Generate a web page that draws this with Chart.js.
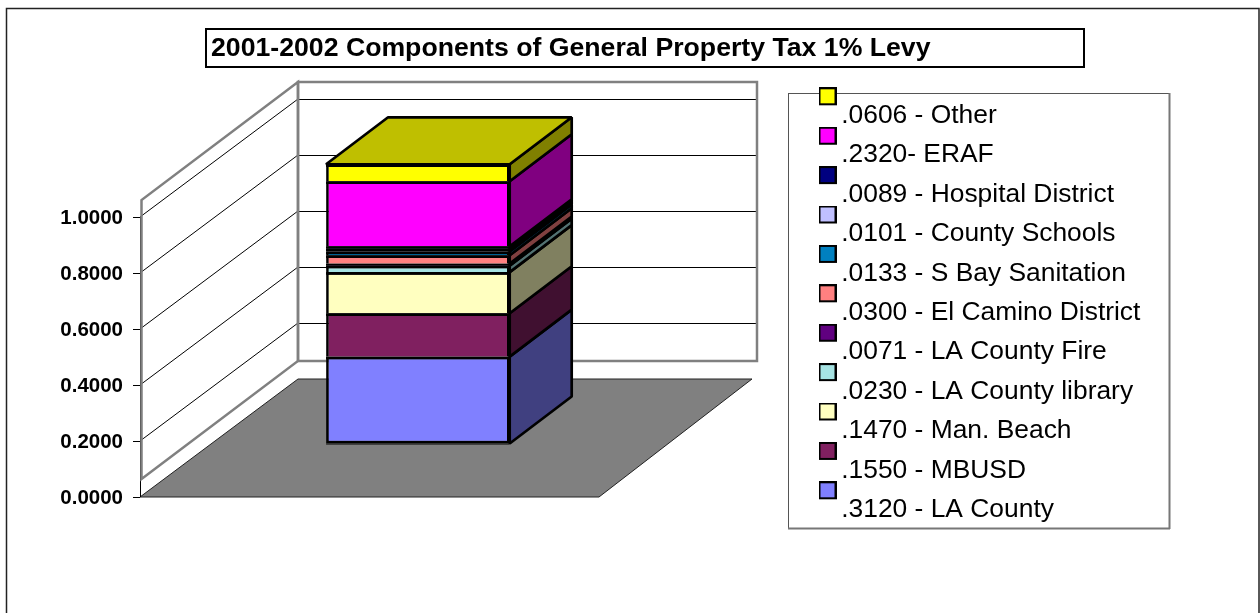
<!DOCTYPE html>
<html>
<head>
<meta charset="utf-8">
<title>2001-2002 Components of General Property Tax 1% Levy</title>
<script src="https://cdn.jsdelivr.net/npm/chart.js@4"></script>
<style>
  html, body { margin: 0; padding: 0; background: #fff; }
  canvas { display: block; }
</style>
</head>
<body>
<canvas id="taxChart" width="1260" height="613"></canvas>
<script>
const chartTitle = '2001-2002 Components of General Property Tax 1% Levy';
const categories = ['2001-2002'];
const seriesNames = ['.3120 - LA County', '.1550 - MBUSD', '.1470 - Man. Beach', '.0230 - LA County library', '.0071 - LA County Fire', '.0300 - El Camino District', '.0133 - S Bay Sanitation', '.0101 - County Schools', '.0089 - Hospital District', '.2320- ERAF', '.0606 - Other'];
const seriesValues = [0.3120, 0.1550, 0.1470, 0.0230, 0.0071, 0.0300, 0.0133, 0.0101, 0.0089, 0.2320, 0.0606];
const seriesColors = ['#8080ff', '#802060', '#ffffc0', '#a6e3e3', '#600080', '#ff8080', '#0080c0', '#c0c0ff', '#000080', '#ff00ff', '#ffff00'];
const tickStep = 0.2;
const tickMax = 1.0;

// 3d look, in pixels
const depthX = 158, depthY = 118;
const barDepthX = 62, barDepthY = 47;
const barShiftX = 48.4, barShiftY = 53;
const wallGap = 18, wallTopValue = 1.0607;
const barLine = 2.7;

function shade(hex, f) {
  const n = parseInt(hex.slice(1), 16);
  const c = [n >> 16, (n >> 8) & 255, n & 255].map(v => Math.round(v * f));
  return `rgb(${c[0]},${c[1]},${c[2]})`;
}

function poly(ctx, pts, fill, stroke, lw) {
  ctx.beginPath();
  pts.forEach((p, i) => i ? ctx.lineTo(p[0], p[1]) : ctx.moveTo(p[0], p[1]));
  ctx.closePath();
  if (fill) { ctx.fillStyle = fill; ctx.fill(); }
  if (stroke) { ctx.strokeStyle = stroke; ctx.lineWidth = lw; ctx.stroke(); }
}

function line(ctx, x1, y1, x2, y2, color, lw) {
  ctx.beginPath();
  ctx.moveTo(x1, y1);
  ctx.lineTo(x2, y2);
  ctx.strokeStyle = color;
  ctx.lineWidth = lw;
  ctx.stroke();
}

// legend swatch sits above and left of its text, so the image is taller than the square
function swatch(color) {
  const c = document.createElement('canvas');
  c.width = 18;
  c.height = 57;
  const g = c.getContext('2d');
  g.fillStyle = '#000';
  g.fillRect(0, 0, 18, 18);
  g.fillStyle = color;
  g.fillRect(2, 2, 14, 14);
  return c;
}

const frame3d = {
  id: 'frame3d',
  afterLayout(chart) {
    // title and legend keep their own place, apart from the plot area
    const t = chart.titleBlock;
    t.left = 211; t.right = 1080; t.top = 32.5; t.bottom = 64.5;
    const l = chart.legend;
    l.left = 814;
    l.right = 1250;
    l.width = l.right - l.left;
    l.top = 80; // leaves room for the first swatch, rows hang from the bottom
    l.bottom = 536;
    l.height = l.bottom - l.top;
  },
  beforeDraw(chart) {
    const ctx = chart.ctx;
    ctx.save();
    ctx.fillStyle = '#fff';
    ctx.fillRect(0, 0, chart.width, chart.height);
    ctx.strokeStyle = '#222';
    ctx.lineWidth = 1.5;
    ctx.strokeRect(6.5, 8.5, 1252.5, 700);
    ctx.strokeStyle = '#000';
    ctx.lineWidth = 2;
    ctx.strokeRect(206, 29, 878, 38);
    ctx.lineWidth = 1;
    ctx.strokeStyle = '#555';
    ctx.strokeRect(788.5, 93.5, 381, 435);
    line(ctx, 788, 528.5, 1170, 528.5, '#777', 2);
    line(ctx, 1169.5, 93, 1169.5, 529, '#777', 2);
    ctx.restore();
  },
  beforeDatasetsDraw(chart) {
    const ctx = chart.ctx;
    const y = chart.scales.y, a = chart.chartArea;
    const x0 = a.left, x1 = a.right, y0 = y.getPixelForValue(0);
    const backL = x0 + depthX, backR = x1 + depthX, wallR = backR;
    ctx.save();
    // floor
    poly(ctx, [[x0, y0], [x1, y0], [backR - 5, y0 - depthY], [backL, y0 - depthY]], '#808080', '#222', 1);
    // grid on side and back walls
    const wallBottom = y0 - depthY - wallGap;
    const wallTop = y.getPixelForValue(wallTopValue) - depthY;
    y.ticks.forEach(t => {
      if (t.value === 0) return;
      const py = y.getPixelForValue(t.value);
      line(ctx, x0, py, backL, py - depthY, '#000', 1);
      line(ctx, backL, py - depthY + 0.5, wallR, py - depthY + 0.5, '#000', 1);
    });
    line(ctx, x0 + 0.5, y0, x0 + 0.5, y.getPixelForValue(tickMax), '#000', 1);
    // wall outlines
    ctx.lineJoin = 'miter';
    poly(ctx, [[x0 + 1.5, wallBottom + depthY], [backL, wallBottom], [backL, wallTop], [x0 + 1.5, wallTop + depthY]], null, '#808080', 2.5);
    poly(ctx, [[backL, wallBottom], [wallR, wallBottom], [wallR, wallTop], [backL, wallTop]], null, '#808080', 2.5);
    ctx.restore();
    // the bar stands in from the front of the floor
    ctx.save();
    ctx.translate(barShiftX, -barShiftY);
  },
  afterDatasetsDraw(chart) {
    const ctx = chart.ctx;
    const last = seriesValues.length - 1;
    ctx.lineJoin = 'bevel';
    seriesValues.forEach((v, i) => {
      const b = chart.getDatasetMeta(i).data[0];
      const l = b.x - b.width / 2;
      const r = b.x + b.width / 2;
      // chart.js halves the border on thin segments, the original keeps it full
      ctx.fillStyle = '#000';
      ctx.fillRect(l, b.y, b.width, Math.min(barLine, b.base - b.y));
      if (i === 0) ctx.fillRect(l, b.base, b.width, 1);
      poly(ctx, [[r, b.y], [r + barDepthX, b.y - barDepthY], [r + barDepthX, b.base - barDepthY], [r, b.base]], shade(seriesColors[i], 0.5), '#000', barLine);
      if (i === last) {
        poly(ctx, [[l, b.y], [r, b.y], [r + barDepthX, b.y - barDepthY], [l + barDepthX, b.y - barDepthY]], shade(seriesColors[i], 0.75), '#000', barLine);
      }
    });
    ctx.restore();
  }
};

const taxChart = new Chart(document.getElementById('taxChart'), {
  type: 'bar',
  data: {
    labels: categories,
    datasets: seriesNames.map((name, i) => ({
      label: name,
      data: [seriesValues[i]],
      backgroundColor: seriesColors[i],
      borderColor: '#000',
      borderWidth: barLine,
      borderSkipped: i === 0 ? false : 'start',
      inflateAmount: 0,
      barPercentage: 0.4,
      categoryPercentage: 1,
      clip: false
    }))
  },
  options: {
    responsive: false,
    animation: false,
    events: [],
    layout: { padding: { left: 40, top: 0, right: 474.67, bottom: 116 } },
    scales: {
      x: { display: false, stacked: true },
      y: {
        stacked: true,
        min: 0,
        max: 465 / 280,
        afterFit: s => { s.width = 100; },
        afterBuildTicks: s => { s.ticks = s.ticks.filter(t => t.value <= tickMax + 0.001); },
        border: { display: false },
        grid: { drawOnChartArea: false, drawTicks: true, tickLength: 7, tickColor: '#000', tickWidth: 1 },
        ticks: {
          stepSize: tickStep,
          includeBounds: false,
          padding: 10,
          labelOffset: 1.5,
          color: '#000',
          font: { family: '"Liberation Sans", Arial, sans-serif', size: 20.5, weight: 'bold' },
          callback: v => v.toFixed(4)
        }
      }
    },
    plugins: {
      tooltip: { enabled: false },
      title: {
        display: true,
        text: chartTitle,
        align: 'start',
        color: '#000',
        padding: 0,
        font: { family: '"Liberation Sans", Arial, sans-serif', size: 26.67, weight: 'bold', lineHeight: 1.2 }
      },
      legend: {
        display: true,
        position: 'right',
        align: 'end',
        reverse: true,
        labels: {
          color: '#000',
          padding: 13,
          usePointStyle: true,
          pointStyleWidth: 1,
          font: { family: '"Liberation Sans", Arial, sans-serif', size: 26.4 },
          generateLabels(chart) {
            const items = Chart.defaults.plugins.legend.labels.generateLabels(chart);
            items.forEach(it => { it.pointStyle = swatch(seriesColors[it.datasetIndex]); });
            return items;
          }
        }
      }
    }
  },
  plugins: [frame3d]
});
</script>
</body>
</html>
